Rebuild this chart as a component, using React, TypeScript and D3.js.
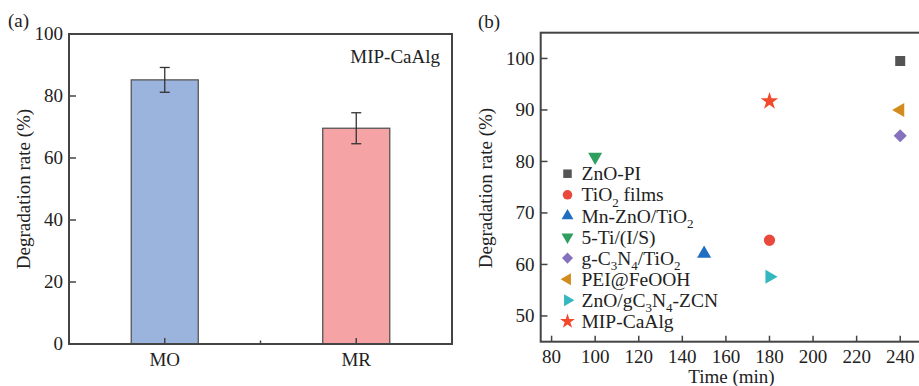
import React from "react";
import * as d3 from "d3";

// Panel (a)
const barCategories = ["MO", "MR"];
const barValues = [85.2, 69.6];
const barErrors = [4.0, 5.0];
const barColors = ["#9bb4dd", "#f5a3a5"];
const aYTicks = [0, 20, 40, 60, 80, 100];

// Panel (b)
const seriesNames = [
  "ZnO-PI",
  "TiO2 films",
  "Mn-ZnO/TiO2",
  "5-Ti/(I/S)",
  "g-C3N4/TiO2",
  "PEI@FeOOH",
  "ZnO/gC3N4-ZCN",
  "MIP-CaAlg",
];
const seriesTime = [240, 180, 150, 100, 240, 240, 180, 180];
const seriesRate = [99.5, 64.7, 62.1, 80.9, 85.0, 90.0, 57.6, 91.7];
const seriesColors = ["#545454", "#e9493d", "#1f6ec2", "#2f9f5f", "#8571bd", "#d38b1d", "#33b8bf", "#f2482b"];
const seriesShapes = ["square", "circle", "up", "down", "diamond", "left", "right", "star"];
const bXTicks = [80, 100, 120, 140, 160, 180, 200, 220, 240];
const bYTicks = [50, 60, 70, 80, 90, 100];

const FONT = "'Liberation Serif', 'Times New Roman', serif";
const AX = "#444";
const FS = 19;
const LFS = 19.5;

function markerPath(shape: string, scale = 1): { d: string; rot: number } {
  const s = scale;
  switch (shape) {
    case "square":
      return { d: d3.symbol(d3.symbolSquare, 100 * s * s)()!, rot: 0 };
    case "circle":
      return { d: d3.symbol(d3.symbolCircle, 100 * s * s)()!, rot: 0 };
    case "diamond":
      return { d: d3.symbol(d3.symbolSquare, 85 * s * s)()!, rot: 45 };
    case "up":
      return { d: d3.symbol(d3.symbolTriangle, 85 * s * s)()!, rot: 0 };
    case "down":
      return { d: d3.symbol(d3.symbolTriangle, 85 * s * s)()!, rot: 180 };
    case "left":
      return { d: d3.symbol(d3.symbolTriangle, 85 * s * s)()!, rot: -90 };
    case "right":
      return { d: d3.symbol(d3.symbolTriangle, 85 * s * s)()!, rot: 90 };
    default:
      return { d: d3.symbol(d3.symbolStar, 95 * s * s)()!, rot: 0 };
  }
}

function Formula({ text }: { text: string }) {
  const parts: { t: string; sub: boolean }[] = [];
  const re = /([A-Za-z])(\d)/g;
  let last = 0;
  let m: RegExpExecArray | null;
  while ((m = re.exec(text))) {
    const idx = m.index + 1;
    if (idx > last) parts.push({ t: text.slice(last, idx), sub: false });
    parts.push({ t: m[2], sub: true });
    last = idx + 1;
  }
  if (last < text.length) parts.push({ t: text.slice(last), sub: false });
  let prevSub = false;
  return (
    <>
      {parts.map((p, i) => {
        let dy = 0;
        if (p.sub && !prevSub) dy = 5.5;
        if (!p.sub && prevSub) dy = -5.5;
        prevSub = p.sub;
        return (
          <tspan key={i} dy={dy} fontSize={p.sub ? 13 : LFS}>
            {p.t}
          </tspan>
        );
      })}
    </>
  );
}

export default function App() {
  // Panel (a) scales
  const aX = d3.scaleLinear().domain([0.5, 2.5]).range([69, 452]);
  const aY = d3.scaleLinear().domain([0, 100]).range([344, 34]);
  const barW = aX(1.35) - aX(1);

  // Panel (b) scales
  const bX = d3.scaleLinear().domain([75, 250]).range([540.7, 922]);
  const bY = d3.scaleLinear().domain([45, 105]).range([341.7, 32.7]);

  const legendX = 567.5;
  const legendY0 = 173.7;
  const legendDy = 21.1;

  return (
    <svg
      width={919}
      height={386}
      style={{ position: "absolute", left: 0, top: 0, background: "#fff" }}
      fontFamily={FONT}
    >
      <rect x={0} y={0} width={919} height={386} fill="#fff" />
      {/* ---------- Panel (a) ---------- */}
      <text x={8} y={27} fontSize={FS} fill="#222">(a)</text>
      {barCategories.map((c, i) => {
        const cx = aX(i + 1);
        return (
          <g key={c}>
            <rect
              x={cx - barW / 2}
              y={aY(barValues[i])}
              width={barW}
              height={aY(0) - aY(barValues[i])}
              fill={barColors[i]}
              stroke="#555"
              strokeWidth={1.3}
            />
            <line x1={cx} x2={cx} y1={aY(barValues[i] + barErrors[i])} y2={aY(barValues[i] - barErrors[i])} stroke="#333" strokeWidth={1.3} />
            <line x1={cx - 5} x2={cx + 5} y1={aY(barValues[i] + barErrors[i])} y2={aY(barValues[i] + barErrors[i])} stroke="#333" strokeWidth={1.3} />
            <line x1={cx - 5} x2={cx + 5} y1={aY(barValues[i] - barErrors[i])} y2={aY(barValues[i] - barErrors[i])} stroke="#333" strokeWidth={1.3} />
            <line x1={cx} x2={cx} y1={aY(0)} y2={aY(0) - 6} stroke={AX} strokeWidth={1.5} />
            <text x={cx} y={366} textAnchor="middle" fontSize={FS} fill="#222">{c}</text>
          </g>
        );
      })}
      <line x1={aX(1.5)} x2={aX(1.5)} y1={aY(0)} y2={aY(0) - 3.5} stroke={AX} strokeWidth={1.5} />
      {aYTicks.map((t) => (
        <g key={t}>
          <line x1={69} x2={76} y1={aY(t)} y2={aY(t)} stroke={AX} strokeWidth={1.5} />
          <text x={63} y={aY(t)} dy="0.34em" textAnchor="end" fontSize={FS} fill="#222">{t}</text>
        </g>
      ))}
      <rect x={69} y={34} width={383} height={310} fill="none" stroke={AX} strokeWidth={2} />
      <text x={440} y={63} textAnchor="end" fontSize={FS} fill="#222">MIP-CaAlg</text>
      <text
        transform={`translate(30,189) rotate(-90)`}
        textAnchor="middle"
        fontSize={FS}
        fill="#222"
      >
        Degradation rate (%)
      </text>

      {/* ---------- Panel (b) ---------- */}
      <text x={478} y={28} fontSize={FS} fill="#222">(b)</text>
      {bXTicks.map((t) => (
        <g key={t}>
          <line x1={bX(t)} x2={bX(t)} y1={bY(45)} y2={bY(45) - 6} stroke={AX} strokeWidth={1.5} />
          <text x={bX(t)} y={362.5} textAnchor="middle" fontSize={FS} fill="#222">{t}</text>
        </g>
      ))}
      {bYTicks.map((t) => (
        <g key={t}>
          <line x1={540.7} x2={547.5} y1={bY(t)} y2={bY(t)} stroke={AX} strokeWidth={1.5} />
          <text x={534.5} y={bY(t)} dy="0.34em" textAnchor="end" fontSize={FS} fill="#222">{t}</text>
        </g>
      ))}
      <rect x={540.7} y={32.7} width={381.3} height={309} fill="none" stroke={AX} strokeWidth={2} />
      <text x={731.5} y={383} textAnchor="middle" fontSize={FS} fill="#222">Time (min)</text>
      <text
        transform={`translate(492,188) rotate(-90)`}
        textAnchor="middle"
        fontSize={FS}
        fill="#222"
      >
        Degradation rate (%)
      </text>
      {seriesNames.map((n, i) => {
        const m = markerPath(seriesShapes[i]);
        return (
          <path
            key={n}
            d={m.d}
            transform={`translate(${bX(seriesTime[i])},${bY(seriesRate[i])}) rotate(${m.rot})`}
            fill={seriesColors[i]}
          />
        );
      })}
      {seriesNames.map((n, i) => {
        const m = markerPath(seriesShapes[i], 0.85);
        const y = legendY0 + i * legendDy;
        return (
          <g key={"lg" + n}>
            <path d={m.d} transform={`translate(${legendX},${y}) rotate(${m.rot})`} fill={seriesColors[i]} />
            <text x={581.5} y={y + 6.6} fontSize={LFS} fill="#222">
              <Formula text={n} />
            </text>
          </g>
        );
      })}
    </svg>
  );
}
